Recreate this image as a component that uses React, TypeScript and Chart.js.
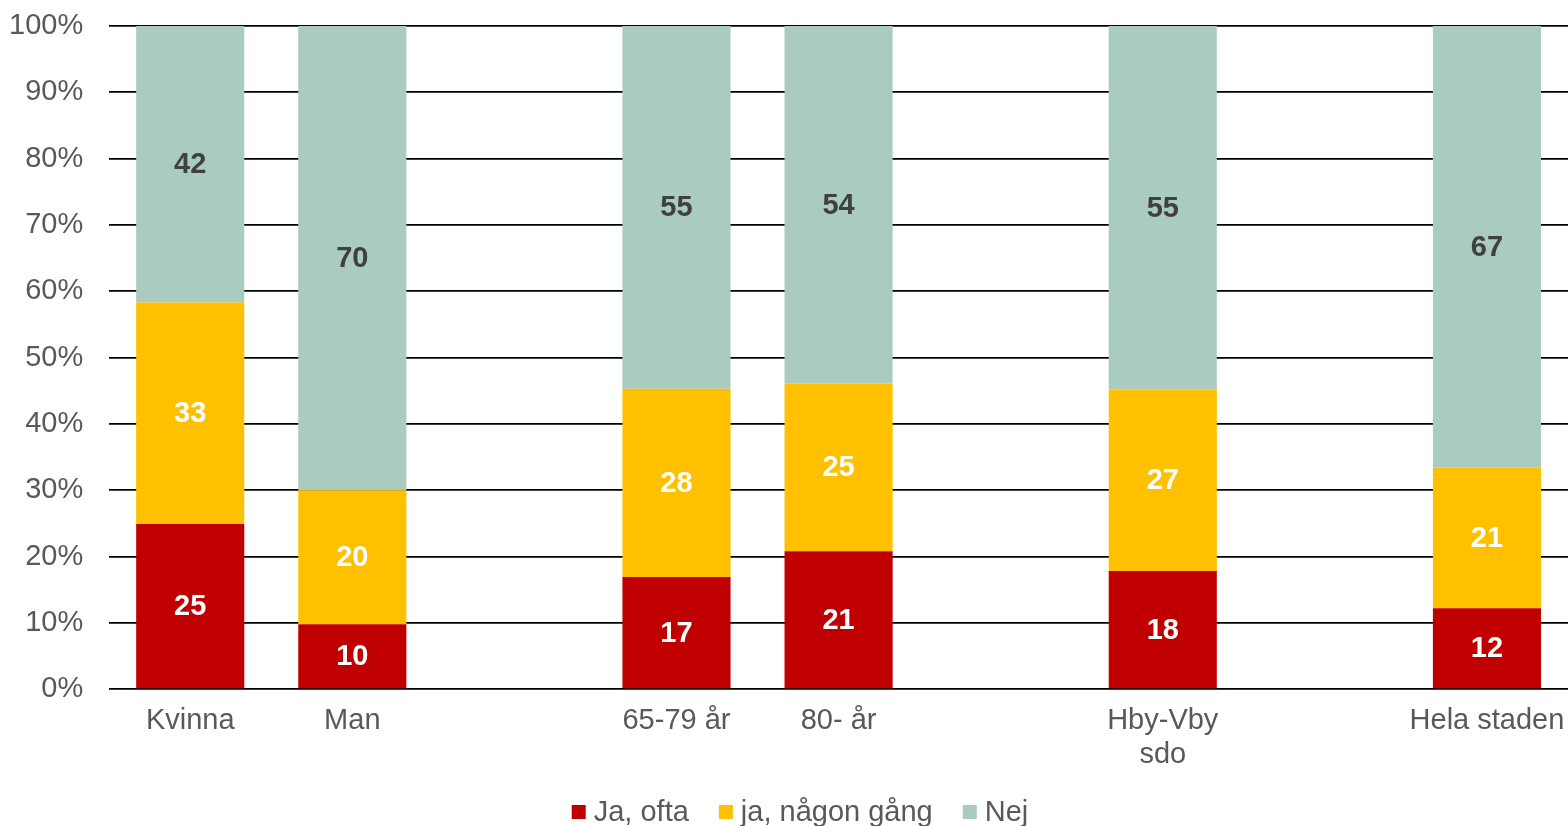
import React, { useEffect, useRef } from "react";
import { Chart, registerables } from "chart.js";

Chart.register(...registerables);

const categories: (string | string[])[] = [
  "Kvinna",
  "Man",
  "",
  "65-79 år",
  "80- år",
  "",
  ["Hby-Vby", "sdo"],
  "",
  "Hela staden",
];

const jaOfta: (number | null)[] = [24.9, 9.8, null, 16.9, 20.8, null, 17.8, null, 12.2];
const jaNagonGang: (number | null)[] = [33.4, 20.2, null, 28.4, 25.3, null, 27.4, null, 21.2];
const nej: (number | null)[] = [41.7, 70.0, null, 54.7, 53.9, null, 54.8, null, 66.6];

const seriesNames = ["Ja, ofta", "ja, någon gång", "Nej"];
const seriesColors = ["#C00000", "#FFC000", "#A9CBC0"];
const labelColors = ["#FFFFFF", "#FFFFFF", "#404040"];

const yTicks = [0, 10, 20, 30, 40, 50, 60, 70, 80, 90, 100];

const FONT = "'Liberation Sans', Arial, sans-serif";
const TEXT_GRAY = "#595959";
const FS = 29;

const valueLabelPlugin = {
  id: "valueLabels",
  afterDatasetsDraw(chart: any) {
    const ctx = chart.ctx;
    ctx.save();
    ctx.font = `bold ${FS}px ${FONT}`;
    ctx.textAlign = "center";
    ctx.textBaseline = "middle";
    chart.data.datasets.forEach((ds: any, di: number) => {
      const meta = chart.getDatasetMeta(di);
      meta.data.forEach((bar: any, i: number) => {
        const v = ds.data[i];
        if (v == null) return;
        const { x, y, base } = bar.getProps(["x", "y", "base"], true);
        ctx.fillStyle = labelColors[di];
        ctx.fillText(String(Math.round(v)), x, (y + base) / 2 + 1);
      });
    });
    ctx.restore();
  },
};

const legendPlugin = {
  id: "customLegend",
  afterDraw(chart: any) {
    const ctx = chart.ctx;
    ctx.save();
    ctx.font = `${FS}px ${FONT}`;
    ctx.textBaseline = "middle";
    ctx.textAlign = "left";
    const box = 14;
    const gapBoxText = 8;
    const gapItems = 30;
    const widths = seriesNames.map((n) => ctx.measureText(n).width);
    const total =
      widths.reduce((a, b) => a + b, 0) +
      seriesNames.length * (box + gapBoxText) +
      (seriesNames.length - 1) * gapItems;
    let x = chart.width / 2 + 16 - total / 2;
    const yc = chart.height - 14;
    seriesNames.forEach((n, i) => {
      ctx.fillStyle = seriesColors[i];
      ctx.fillRect(x, yc - box / 2, box, box);
      x += box + gapBoxText;
      ctx.fillStyle = TEXT_GRAY;
      ctx.fillText(n, x, yc + 1);
      x += widths[i] + gapItems;
    });
    ctx.restore();
  },
};

export default function App() {
  const ref = useRef<HTMLCanvasElement | null>(null);

  useEffect(() => {
    if (!ref.current) return;
    const seriesData = [jaOfta, jaNagonGang, nej];
    const chart = new Chart(ref.current, {
      type: "bar",
      data: {
        labels: categories,
        datasets: seriesNames.map((name, i) => ({
          label: name,
          data: seriesData[i],
          backgroundColor: seriesColors[i],
          borderWidth: 0,
          categoryPercentage: 1,
          barPercentage: 0.667,
        })),
      },
      options: {
        animation: false,
        responsive: false,
        maintainAspectRatio: false,
        layout: { padding: { top: 26, left: -17, right: 0, bottom: 39 } },
        plugins: {
          legend: { display: false },
          tooltip: { enabled: false },
        },
        scales: {
          x: {
            stacked: true,
            grid: { display: false, drawTicks: false },
            border: { display: false },
            afterFit: (scale: any) => {
              scale.paddingLeft = 0;
              scale.paddingRight = 0;
            },
            ticks: {
              color: TEXT_GRAY,
              font: { family: FONT, size: FS, lineHeight: 1.17 },
              padding: 15,
              maxRotation: 0,
              autoSkip: false,
            },
          },
          y: {
            stacked: true,
            min: 0,
            max: 100,
            afterBuildTicks: (axis: any) => {
              axis.ticks = yTicks.map((v) => ({ value: v }));
            },
            afterFit: (scale: any) => {
              scale.paddingTop = 0;
              scale.paddingBottom = 0;
            },
            grid: { color: "#000000", lineWidth: 1.8, drawTicks: false },
            border: { display: false },
            ticks: {
              color: TEXT_GRAY,
              font: { family: FONT, size: FS },
              padding: 26,
              callback: (v: any) => `${v}%`,
            },
          },
        },
      },
      plugins: [valueLabelPlugin, legendPlugin],
    });
    return () => chart.destroy();
  }, []);

  return (
    <div style={{ position: "fixed", left: 0, top: 0, width: 1568, height: 826, background: "#fff" }}>
      <canvas ref={ref} width={1568} height={826} style={{ width: 1568, height: 826, display: "block" }} />
    </div>
  );
}
